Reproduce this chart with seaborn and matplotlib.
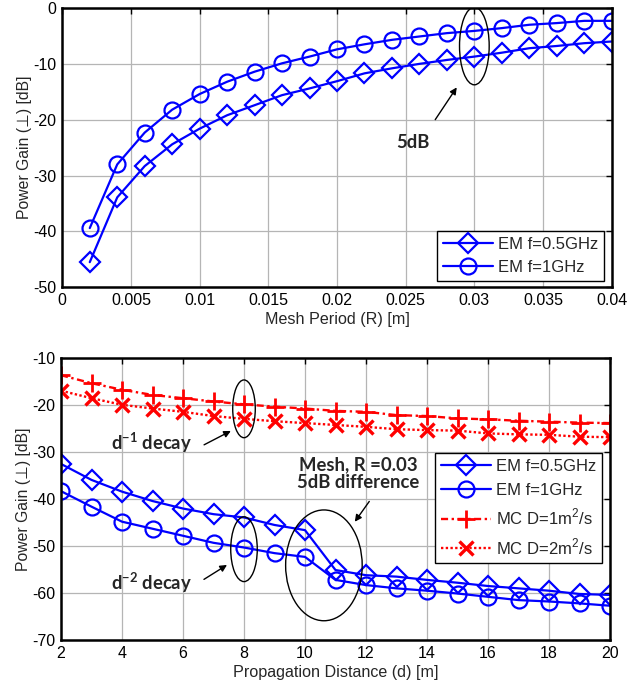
import numpy as np
import pandas as pd
import matplotlib
matplotlib.use("Agg")
import matplotlib.pyplot as plt
from matplotlib.patches import Ellipse
import seaborn as sns

# ---------------- data ----------------
mesh_R = [0.002, 0.004, 0.006, 0.008, 0.010, 0.012, 0.014, 0.016, 0.018, 0.020,
          0.022, 0.024, 0.026, 0.028, 0.030, 0.032, 0.034, 0.036, 0.038, 0.040]
em05_R = [-45.5, -33.9, -28.3, -24.4, -21.6, -19.2, -17.4, -15.6, -14.4, -13.1,
          -11.7, -10.8, -10.0, -9.3, -8.7, -8.0, -7.2, -6.8, -6.3, -6.0]
em1_R = [-39.4, -28.0, -22.3, -18.2, -15.4, -13.2, -11.4, -9.9, -8.7, -7.4,
         -6.5, -5.7, -5.1, -4.5, -4.1, -3.6, -3.0, -2.7, -2.3, -2.3]

dist = [2, 3, 4, 5, 6, 7, 8, 9, 10, 11, 12, 13, 14, 15, 16, 17, 18, 19, 20]
em05_d = [-32.5, -35.9, -38.4, -40.4, -42.0, -43.2, -43.9, -45.5, -46.6, -55.1,
          -56.2, -56.5, -57.2, -57.8, -58.5, -59.0, -59.5, -60.2, -60.4]
em1_d = [-38.3, -41.6, -44.8, -46.3, -47.8, -49.3, -50.3, -51.5, -52.3, -57.2,
         -58.3, -59.0, -59.5, -60.1, -60.8, -61.5, -61.8, -62.2, -62.7]
mc1_d = [-13.6, -15.3, -16.7, -17.8, -18.5, -19.2, -19.8, -20.3, -20.7, -21.2,
         -21.4, -22.1, -22.3, -22.8, -23.0, -23.3, -23.5, -23.7, -23.8]
mc2_d = [-16.9, -18.5, -19.9, -20.7, -21.4, -22.3, -22.9, -23.4, -23.8, -24.2,
         -24.6, -25.1, -25.3, -25.4, -26.0, -26.2, -26.3, -26.7, -26.8]

top_labels = ["EM f=0.5GHz", "EM f=1GHz"]
bot_labels = ["EM f=0.5GHz", "EM f=1GHz", "MC D=1m$^2$/s", "MC D=2m$^2$/s"]
ylabel_txt = "Power Gain (\u22a5) [dB]"

# ---------------- style ----------------
sns.set_style("whitegrid")
plt.rcParams["font.family"] = ["Liberation Sans", "DejaVu Sans"]
plt.rcParams["font.size"] = 11
plt.rcParams["axes.unicode_minus"] = False
plt.rcParams["mathtext.fontset"] = "custom"
plt.rcParams["mathtext.rm"] = "Liberation Sans"
plt.rcParams["mathtext.bf"] = "Lato:bold"

BLUE = "#0000ff"
RED = "#ff0000"
GRID = "#b5b5b5"

fig = plt.figure(figsize=(6.27, 6.90), dpi=100)
W, H = 627, 690
ax1 = fig.add_axes([62.3 / W, 1 - 287.3 / H, (611.7 - 62.3) / W, (287.3 - 8) / H])
ax2 = fig.add_axes([61 / W, 1 - 640 / H, (610 - 61) / W, (640 - 358.3) / H])

def style_ax(ax):
    ax.set_facecolor("white")
    ax.grid(True, color=GRID, linewidth=0.9, linestyle="-")
    ax.set_axisbelow(True)
    for s in ax.spines.values():
        s.set_color("black")
        s.set_linewidth(1.8)
        s.set_visible(True)
    ax.tick_params(direction="in", length=4, width=1, top=True, right=True,
                   labelsize=11.5, pad=4, colors="black")

circ_kw = dict(linewidth=1.6, markersize=11.5, markerfacecolor="none",
               markeredgewidth=1.6)
diam_kw = dict(linewidth=1.6, markersize=10, markerfacecolor="none",
               markeredgewidth=1.6)
leg_kw = dict(fontsize=12, frameon=True, fancybox=False, edgecolor="black",
              handlelength=3.0, handletextpad=0.3, borderpad=0.35,
              framealpha=1, borderaxespad=0)
ann_font = dict(fontsize=13.3, fontweight="bold", family="Lato")

# top panel
df_top = pd.DataFrame({"R": mesh_R, "a": em05_R, "b": em1_R})
sns.lineplot(data=df_top, x="R", y="a", ax=ax1, color=BLUE, marker="D",
             markeredgecolor=BLUE, label=top_labels[0], **diam_kw)
sns.lineplot(data=df_top, x="R", y="b", ax=ax1, color=BLUE, marker="o",
             markeredgecolor=BLUE, label=top_labels[1], **circ_kw)
style_ax(ax1)
ax1.set_xlim(0, 0.04)
ax1.set_ylim(-50, 0)
ax1.set_xticks(np.arange(0, 0.0401, 0.005))
ax1.set_xticklabels(["0", "0.005", "0.01", "0.015", "0.02", "0.025", "0.03", "0.035", "0.04"])
ax1.set_yticks(np.arange(-50, 1, 10))
ax1.set_xlabel("Mesh Period (R) [m]", fontsize=11.6, labelpad=3)
ax1.set_ylabel(ylabel_txt, fontsize=11.3, labelpad=1,
               family=["Liberation Sans", "DejaVu Sans"])
leg1 = ax1.legend(loc="lower right", bbox_to_anchor=(0.986, 0.024),
                  labelspacing=0.45, **leg_kw)
leg1.get_frame().set_linewidth(1.0)

ax1.add_patch(Ellipse((0.03, -6.8), 0.00216, 13.9, fill=False, edgecolor="black",
                      linewidth=1.0, zorder=5))
ax1.annotate("", xy=(0.02883, -13.8), xytext=(0.02704, -20.4),
             arrowprops=dict(arrowstyle="-|>", color="black", lw=1.0,
                             mutation_scale=10))
ax1.text(0.02555, -24.0, "5dB", ha="center", va="center", **ann_font)

# bottom panel
df_bot = pd.DataFrame({"d": dist, "a": em05_d, "b": em1_d, "c": mc1_d, "e": mc2_d})
sns.lineplot(data=df_bot, x="d", y="a", ax=ax2, color=BLUE, marker="D",
             markeredgecolor=BLUE, label=bot_labels[0], **diam_kw)
sns.lineplot(data=df_bot, x="d", y="b", ax=ax2, color=BLUE, marker="o",
             markeredgecolor=BLUE, label=bot_labels[1], **circ_kw)
sns.lineplot(data=df_bot, x="d", y="c", ax=ax2, color=RED, marker="+",
             markeredgecolor=RED, label=bot_labels[2], linestyle=(0, (3, 1.5, 1, 1.5)),
             linewidth=1.7, markersize=13, markeredgewidth=2.0)
sns.lineplot(data=df_bot, x="d", y="e", ax=ax2, color=RED, marker="x",
             markeredgecolor=RED, label=bot_labels[3], linestyle=(0, (1, 1)),
             linewidth=1.7, markersize=9.5, markeredgewidth=2.4)
style_ax(ax2)
ax2.set_xlim(2, 20)
ax2.set_ylim(-70, -10)
ax2.set_xticks(np.arange(2, 21, 2))
ax2.set_yticks(np.arange(-70, -9, 10))
ax2.set_xlabel("Propagation Distance (d) [m]", fontsize=11.6, labelpad=3)
ax2.set_ylabel(ylabel_txt, fontsize=11.3, labelpad=1,
               family=["Liberation Sans", "DejaVu Sans"])
leg2 = ax2.legend(loc="upper right", bbox_to_anchor=(0.985, 0.665),
                  labelspacing=0.55, **leg_kw)
leg2.get_frame().set_linewidth(1.0)

ax2.add_patch(Ellipse((8, -20.76), 0.74, 12.3, fill=False, edgecolor="black",
                      linewidth=1.0, zorder=5))
ax2.add_patch(Ellipse((8, -50.66), 0.87, 13.8, fill=False, edgecolor="black",
                      linewidth=1.0, zorder=5))
ax2.add_patch(Ellipse((10.62, -54.1), 2.51, 23.6, fill=False, edgecolor="black",
                      linewidth=1.0, zorder=5))
arrow_kw = dict(arrowstyle="-|>", color="black", lw=1.0, mutation_scale=10)
ax2.annotate("", xy=(7.65, -25.2), xytext=(6.61, -28.7), arrowprops=arrow_kw)
ax2.annotate("", xy=(7.52, -53.7), xytext=(6.61, -57.4), arrowprops=arrow_kw)
ax2.annotate("", xy=(11.58, -45.3), xytext=(12.16, -40.0), arrowprops=arrow_kw)
ax2.text(4.97, -28.1, "d$^{\\mathbf{-1}}$ decay", ha="center", va="center", **ann_font)
ax2.text(4.97, -57.9, "d$^{\\mathbf{-2}}$ decay", ha="center", va="center", **ann_font)
ax2.text(11.75, -34.6, "Mesh, R =0.03\n5dB difference", ha="center", va="center",
         linespacing=1.1, **ann_font)

fig.savefig("out.png", dpi=100, facecolor="white")
